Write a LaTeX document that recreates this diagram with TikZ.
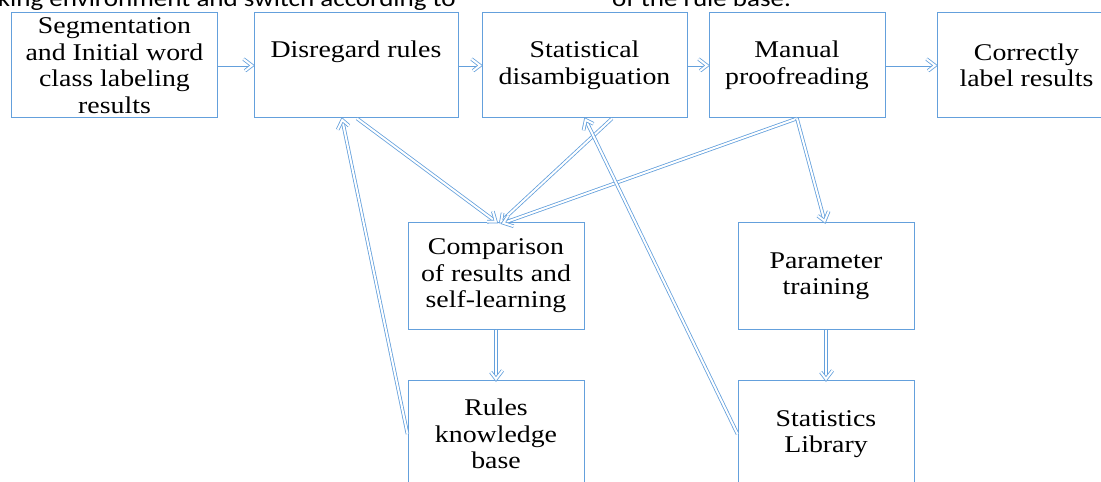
\documentclass[tikz,border=0pt]{standalone}
\usepackage{fontspec}
\setmainfont{Liberation Serif}[FakeStretch=1.16]
\newfontfamily\hdrfont{Carlito}[FakeStretch=1.16]
\usetikzlibrary{decorations.markings}
\definecolor{lineblue}{RGB}{100,160,220}
\tikzset{
  box/.style={draw=lineblue, line width=1bp, inner sep=0pt, align=center,
    font=\fontsize{24bp}{26.5bp}\selectfont},
  hdr/.style={inner sep=0pt, font=\hdrfont\fontsize{23.3bp}{28bp}\selectfont},
  chevron/.style={draw=lineblue, double=white, double distance=2bp,
    line width=0.8bp, line join=miter},
  link/.style={chevron, shorten >=2bp, postaction={decorate},
    decoration={markings, mark=at position 1 with {
      \draw[chevron] (-10bp,6.5bp) -- (-1.5bp,0pt) -- (-10bp,-6.5bp);}}}
}
\begin{document}
\begin{tikzpicture}[x=1bp, y=-1bp]
  \useasboundingbox (0,0) rectangle (1101,482);
  \clip (0,0) rectangle (1101,482);

  % header line of the surrounding text
  \node[hdr, anchor=base east] (h1) at (456,6.5) {king environment and switch according to};
  \node[hdr, anchor=base west] (h2) at (612,6.5) {of the rule base.};

  % top row
  \node[box, minimum width=205bp, minimum height=105bp] (seg) at (114.5,65.5)
    {Segmentation\\and Initial word\\class labeling\\results};
  \node[box, minimum width=204bp, minimum height=105bp] (dis) at (356,65.5)
    {Disregard rules\\\phantom{g}};
  \node[box, minimum width=205bp, minimum height=105bp] (sta) at (584.5,65.5)
    {Statistical\\disambiguation};
  \node[box, minimum width=176bp, minimum height=105bp] (man) at (797,65.5)
    {Manual\\proofreading};
  \node[box, minimum width=179bp, minimum height=105bp] (cor) at (1026.5,65.5)
    {Correctly\\label results};

  % lower blocks
  \node[box, minimum width=176bp, minimum height=106bp] (cmp) at (496,276)
    {Comparison\\of results and\\self-learning};
  \node[box, minimum width=176bp, minimum height=106bp] (rkb) at (496,434)
    {Rules\\knowledge\\base};
  \node[box, minimum width=176bp, minimum height=106bp] (par) at (826,276)
    {Parameter\\training};
  \node[box, minimum width=176bp, minimum height=106bp] (lib) at (826,434)
    {Statistics\\Library};

  % main flow
  \draw[link] (seg.east) -- (dis.west);
  \draw[link] (dis.east) -- (sta.west);
  \draw[link] (sta.east) -- (man.west);
  \draw[link] (man.east) -- (cor.west);

  % feedback into comparison
  \draw[link] ([xshift=1bp]dis.south) -- ([xshift=1bp]cmp.north);
  \draw[link] ([xshift=27.5bp]sta.south) -- ([xshift=4bp]cmp.north);
  \draw[link] (man.south) -- ([xshift=6bp,yshift=-1bp]cmp.north);
  \draw[link] (man.south) -- ([xshift=-1bp]par.north);

  % knowledge bases
  \draw[link] (cmp.south) -- (rkb.north);
  \draw[link] (par.south) -- (lib.north);
  \draw[link] (rkb.west) -- ([xshift=-14bp]dis.south);
  \draw[link] (lib.west) -- ([xshift=0.5bp]sta.south);
\end{tikzpicture}
\end{document}
